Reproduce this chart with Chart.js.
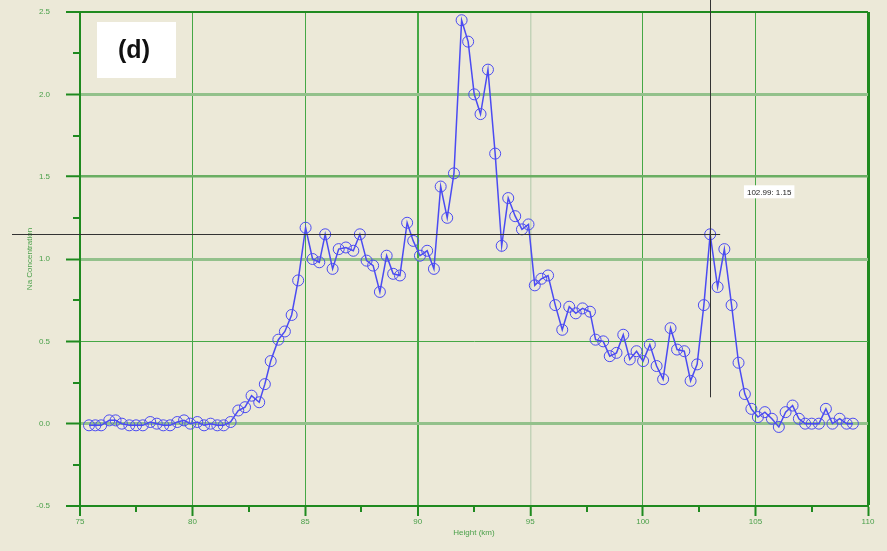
<!DOCTYPE html>
<html>
<head>
<meta charset="utf-8">
<title>Na Concentration vs Height</title>
<script src="https://cdn.jsdelivr.net/npm/chart.js@4.4.1/dist/chart.umd.min.js"></script>
<style>
  html, body { margin: 0; padding: 0; background: #ECE9D8; }
  #wrap { width: 887px; height: 551px; }
</style>
</head>
<body>
<div id="wrap"><canvas id="chart-na" width="887" height="551"></canvas></div>
<script>
// ===== DATA =====
const heights = [
  75.40, 75.68, 75.94, 76.30, 76.58, 76.86, 77.19, 77.49, 77.79, 78.12, 78.41,
  78.70, 79.00, 79.32, 79.62, 79.90, 80.21, 80.51, 80.80, 81.10, 81.38, 81.69,
  82.03, 82.33, 82.62, 82.96, 83.21, 83.47, 83.81, 84.10, 84.40, 84.69,
  85.02, 85.33, 85.63, 85.89, 86.22, 86.49, 86.81, 87.14, 87.43, 87.73,
  88.02, 88.32, 88.62, 88.91, 89.21, 89.53, 89.80, 90.10, 90.42, 90.72,
  91.02, 91.31, 91.61, 91.95, 92.24, 92.51, 92.79, 93.12, 93.44, 93.73,
  94.02, 94.33, 94.63, 94.92, 95.20, 95.49, 95.79, 96.11, 96.42, 96.73,
  97.02, 97.32, 97.65, 97.90, 98.24, 98.53, 98.83, 99.13, 99.42, 99.72,
  100.01, 100.31, 100.61, 100.90, 101.23, 101.52, 101.84, 102.12, 102.41, 102.71,
  102.99, 103.32, 103.62, 103.94, 104.25, 104.53, 104.82, 105.11, 105.42, 105.73,
  106.04, 106.34, 106.65, 106.93, 107.21, 107.50, 107.82, 108.13, 108.42, 108.74,
  109.05, 109.33
];
const naConc = [
  -0.01, -0.01, -0.01, 0.02, 0.02, 0.00, -0.01, -0.01, -0.01, 0.01, 0.00,
  -0.01, -0.01, 0.01, 0.02, 0.00, 0.01, -0.01, 0.00, -0.01, -0.01, 0.01,
  0.08, 0.10, 0.17, 0.13, 0.24, 0.38, 0.51, 0.56, 0.66, 0.87,
  1.19, 1.00, 0.98, 1.15, 0.94, 1.06, 1.07, 1.05, 1.15, 0.99,
  0.96, 0.80, 1.02, 0.91, 0.90, 1.22, 1.11, 1.02, 1.05, 0.94,
  1.44, 1.25, 1.52, 2.45, 2.32, 2.00, 1.88, 2.15, 1.64, 1.08,
  1.37, 1.26, 1.18, 1.21, 0.84, 0.88, 0.90, 0.72, 0.57, 0.71,
  0.67, 0.70, 0.68, 0.51, 0.50, 0.41, 0.43, 0.54, 0.39, 0.44,
  0.38, 0.48, 0.35, 0.27, 0.58, 0.45, 0.44, 0.26, 0.36, 0.72,
  1.15, 0.83, 1.06, 0.72, 0.37, 0.18, 0.09, 0.04, 0.07, 0.03,
  -0.02, 0.07, 0.11, 0.03, 0.00, 0.00, 0.00, 0.09, 0.00, 0.03,
  0.00, 0.00
];
const xTicks = [75, 80, 85, 90, 95, 100, 105, 110];
const yTicks = [-0.5, 0.0, 0.5, 1.0, 1.5, 2.0, 2.5];
const xMinor = [77.5, 82.5, 87.5, 92.5, 97.5, 102.5, 107.5];
const yMinor = [-0.25, 0.25, 0.75, 1.25, 1.75, 2.25];
const cursorPt = { x: 102.99, y: 1.15 };
const panelLabel = '(d)';

// ===== STYLE =====
const GREEN_DARK  = '#1f8a1f';
const GREEN_MID   = '#45a845';
const GREEN_LIGHT = '#93c18b';
const GREEN_TEXT  = '#4aa04a';
const BLUE        = '#4b4bf2';
const FONT        = '"Liberation Sans", Arial, sans-serif';

const xGrid = {
  75: [GREEN_DARK, 2], 80: [GREEN_MID, 1], 85: [GREEN_MID, 1], 90: [GREEN_MID, 2],
  95: ['#c3d3b8', 1.5], 100: [GREEN_MID, 1], 105: [GREEN_MID, 1], 110: [GREEN_DARK, 3]
};
const yGrid = {
  '-0.5': [GREEN_DARK, 2], '0': [GREEN_LIGHT, 3], '0.5': [GREEN_MID, 1],
  '1': [GREEN_LIGHT, 3], '1.5': ['#6aae62', 2.5], '2': [GREEN_LIGHT, 3], '2.5': [GREEN_DARK, 2]
};
const gridStyle = (map, v, i) => (map[String(v)] || [GREEN_MID, 1])[i];

// ===== PLUGINS =====
const bgPlugin = {
  id: 'bg',
  beforeDraw(chart) {
    const { ctx, width, height } = chart;
    ctx.save();
    ctx.fillStyle = '#ECE9D8';
    ctx.fillRect(0, 0, width, height);
    ctx.restore();
  }
};

const minorTicks = {
  id: 'minorTicks',
  afterDraw(chart) {
    const { ctx, chartArea } = chart;
    const xs = chart.scales.x, ys = chart.scales.y;
    ctx.save();
    ctx.strokeStyle = GREEN_DARK;
    ctx.lineWidth = 2;
    ctx.beginPath();
    xMinor.forEach(v => {
      const px = Math.round(xs.getPixelForValue(v));
      ctx.moveTo(px, chartArea.bottom);
      ctx.lineTo(px, chartArea.bottom + 6);
    });
    yMinor.forEach(v => {
      const py = Math.round(ys.getPixelForValue(v));
      ctx.moveTo(chartArea.left - 7, py);
      ctx.lineTo(chartArea.left, py);
    });
    ctx.stroke();
    ctx.restore();
  }
};

const cursorPlugin = {
  id: 'cursor',
  afterDraw(chart) {
    const { ctx } = chart;
    const cx = chart.scales.x.getPixelForValue(cursorPt.x);
    const cy = chart.scales.y.getPixelForValue(cursorPt.y);
    ctx.save();
    ctx.strokeStyle = '#333';
    ctx.lineWidth = 1;
    ctx.beginPath();
    ctx.moveTo(12, Math.round(cy) + 0.5);
    ctx.lineTo(cx + 10, Math.round(cy) + 0.5);
    ctx.moveTo(Math.round(cx) + 0.5, 0);
    ctx.lineTo(Math.round(cx) + 0.5, cy + 163);
    ctx.stroke();

    // readout box
    const txt = cursorPt.x.toFixed(2) + ': ' + cursorPt.y.toFixed(2);
    ctx.font = '8px ' + FONT;
    const w = ctx.measureText(txt).width + 6;
    const bx = cx + 59 - w / 2, by = cy - 49;
    ctx.fillStyle = '#fff';
    ctx.fillRect(bx, by, w, 13);
    ctx.fillStyle = '#222';
    ctx.textBaseline = 'middle';
    ctx.textAlign = 'center';
    ctx.fillText(txt, cx + 59, by + 7);

    // panel label
    const { left, top } = chart.chartArea;
    ctx.fillStyle = '#fff';
    ctx.fillRect(left + 17, top + 10, 79, 56);
    ctx.fillStyle = '#111';
    ctx.font = 'bold 25px ' + FONT;
    ctx.fillText(panelLabel, left + 54, top + 39);
    ctx.restore();
  }
};

// ===== CHART =====
new Chart(document.getElementById('chart-na'), {
  type: 'line',
  data: {
    datasets: [{
      label: 'Na Concentration',
      data: heights.map((h, i) => ({ x: h, y: naConc[i] })),
      borderColor: BLUE,
      borderWidth: 1.5,
      tension: 0,
      pointStyle: 'circle',
      pointRadius: 5.5,
      pointBorderWidth: 1,
      pointBorderColor: BLUE,
      pointBackgroundColor: 'rgba(0,0,0,0)',
      clip: false
    }]
  },
  options: {
    responsive: false,
    animation: false,
    devicePixelRatio: 1,
    layout: { padding: { top: 12, right: 19, left: 0, bottom: 0 } },
    plugins: { legend: { display: false }, tooltip: { enabled: false } },
    scales: {
      x: {
        type: 'linear',
        min: 75, max: 110,
        afterFit: s => { s.height = 45; s.paddingLeft = 0; s.paddingRight = 0; },
        afterBuildTicks: s => { s.ticks = xTicks.map(v => ({ value: v })); },
        border: { display: true, color: GREEN_DARK, width: 2 },
        grid: {
          color: c => gridStyle(xGrid, c.tick.value, 0),
          lineWidth: c => gridStyle(xGrid, c.tick.value, 1),
          drawTicks: true, tickLength: 10, tickColor: GREEN_DARK, tickWidth: 2
        },
        ticks: {
          color: GREEN_TEXT, padding: 1, maxRotation: 0,
          font: { family: FONT, size: 8 },
          callback: v => String(v)
        },
        title: {
          display: true, text: 'Height (km)', color: GREEN_TEXT,
          font: { family: FONT, size: 8 }, padding: { top: 0, bottom: 13 }
        }
      },
      y: {
        type: 'linear',
        min: -0.5, max: 2.5,
        afterFit: s => { s.width = 80; s.paddingTop = 0; s.paddingBottom = 0; },
        afterBuildTicks: s => { s.ticks = yTicks.map(v => ({ value: v })); },
        border: { display: true, color: GREEN_DARK, width: 2 },
        grid: {
          color: c => gridStyle(yGrid, c.tick.value, 0),
          lineWidth: c => gridStyle(yGrid, c.tick.value, 1),
          drawTicks: true, tickLength: 14, tickColor: GREEN_DARK, tickWidth: 2
        },
        ticks: {
          color: GREEN_TEXT, padding: 16,
          font: { family: FONT, size: 8 },
          callback: v => Number(v).toFixed(1)
        },
        title: {
          display: true, text: 'Na Concentration', color: GREEN_TEXT,
          font: { family: FONT, size: 8 }, padding: { top: 25, bottom: 0 }
        }
      }
    }
  },
  plugins: [bgPlugin, minorTicks, cursorPlugin]
});
</script>
</body>
</html>
